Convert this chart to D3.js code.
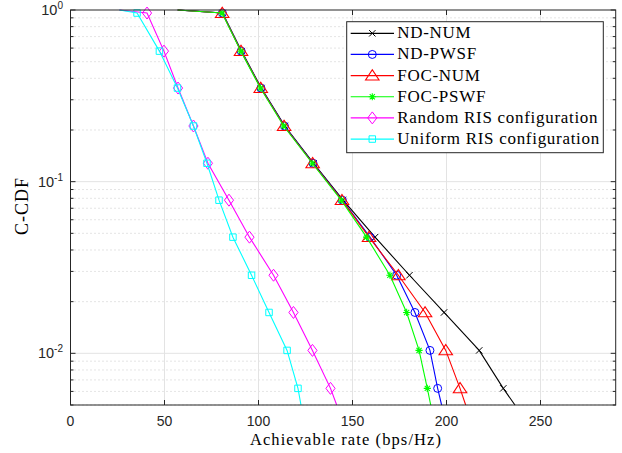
<!DOCTYPE html>
<html><head><meta charset="utf-8">
<script src="https://cdn.jsdelivr.net/npm/d3@7"></script>
<style>body{margin:0;background:#fff}svg{display:block}</style>
</head><body>
<svg id="c" width="622" height="453"></svg>
<script>
// CCDF levels where markers sit
const ccdfLevels = [0.96, 0.576, 0.351, 0.211, 0.128, 0.078, 0.0475, 0.0285, 0.0173, 0.0104, 0.00625];
const xTicks = [0, 50, 100, 150, 200, 250];
const yTicks = [1, 0.1, 0.01];
const yTickLabels = [["10", "0"], ["10", "-1"], ["10", "-2"]];
const seriesNames = ["ND-NUM", "ND-PWSF", "FOC-NUM", "FOC-PSWF", "Random RIS configuration", "Uniform RIS configuration"];
// rates at the marker levels
const ndNum   = [80.9, 91.0, 101.5, 114.0, 129.3, 145.0, 162.0, 180.3, 198.7, 217.4, 230.2];
const ndPwsf  = [80.8, 90.8, 101.3, 113.8, 129.0, 144.6, 159.3, 173.5, 183.2, 191.2, 195.3];
const focNum  = [80.7, 90.7, 101.2, 113.6, 128.8, 144.4, 158.8, 174.4, 188.6, 199.6, 207.2];
const focPswf = [80.6, 90.6, 101.0, 113.4, 128.6, 144.0, 157.5, 169.9, 178.8, 185.4, 189.8];
const randRis = [40.7, 49.7, 57.2, 65.4, 73.1, 84.3, 95.2, 108.0, 118.6, 128.7, 138.3];
const unifRis = [35.4, 47.3, 56.9, 65.4, 72.6, 79.0, 86.4, 96.3, 105.6, 115.2, 121.0];
// where each curve leaves CCDF = 1, and where it hits the bottom (0.005)
const startRates = [57, 57, 57, 57, 26, 26];
const endRates = [236.4, 197.4, 210.2, 191.6, 141.6, 122.6];
const colors = ["#000000", "#0000ff", "#ff0000", "#00ff00", "#ff00ff", "#00ffff"];
const markers = ["x", "circle", "triangle", "star", "diamond", "square"];
const seriesRates = [ndNum, ndPwsf, focNum, focPswf, randRis, unifRis];

const svg = d3.select("#c");
const L = 70.5, R = 615.7, T = 10, B = 405;
const x = d3.scaleLinear().domain([0, 290]).range([L, R]);
const y = d3.scaleLog().domain([0.005, 1]).range([B, T]);
const axisCol = "#262626";

// minor grid (dotted)
const minor = [];
[0.001, 0.01, 0.1].forEach(d => { for (let k = 2; k <= 9; k++) { const v = +(k * d).toPrecision(3); if (v >= 0.005 && v < 1) minor.push(v); } });
svg.append("g").selectAll("line").data(minor).join("line")
  .attr("x1", L).attr("x2", R).attr("y1", d => y(d)).attr("y2", d => y(d))
  .attr("stroke", "#bdbdbd").attr("stroke-width", 0.8).attr("stroke-dasharray", "1,3");
// major grid
svg.append("g").selectAll("line").data(xTicks.slice(1)).join("line")
  .attr("x1", d => x(d)).attr("x2", d => x(d)).attr("y1", T).attr("y2", B)
  .attr("stroke", "#e3e3e3").attr("stroke-width", 1);
svg.append("g").selectAll("line").data(yTicks.slice(1)).join("line")
  .attr("x1", L).attr("x2", R).attr("y1", d => y(d)).attr("y2", d => y(d))
  .attr("stroke", "#e3e3e3").attr("stroke-width", 1);

// curves
const line = d3.line().x(d => x(d[0])).y(d => y(d[1]));
const sym = {
  circle: d3.symbol().type(d3.symbolCircle).size(50),
  triangle: d3.symbol().type(d3.symbolTriangle).size(60),
  square: d3.symbol().type(d3.symbolSquare).size(42)
};
function drawMarker(g, type, cx, cy, col) {
  if (type === "x") {
    const s = 3.2;
    g.append("path").attr("d", `M${cx-s},${cy-s}L${cx+s},${cy+s}M${cx-s},${cy+s}L${cx+s},${cy-s}`)
      .attr("stroke", col).attr("stroke-width", 1).attr("fill", "none");
  } else if (type === "star") {
    const s = 3.6, d = s * 0.72;
    g.append("path").attr("d", `M${cx-s},${cy}L${cx+s},${cy}M${cx},${cy-s}L${cx},${cy+s}M${cx-d},${cy-d}L${cx+d},${cy+d}M${cx-d},${cy+d}L${cx+d},${cy-d}`)
      .attr("stroke", col).attr("stroke-width", 1.1).attr("fill", "none");
  } else if (type === "diamond") {
    const w = 4.6, h = 6;
    g.append("path").attr("d", `M${cx},${cy-h}L${cx+w},${cy}L${cx},${cy+h}L${cx-w},${cy}Z`)
      .attr("stroke", col).attr("stroke-width", 1).attr("fill", "none");
  } else {
    let p = g.append("path").attr("d", sym[type]()).attr("fill", "none").attr("stroke", col).attr("stroke-width", 1);
    if (type === "triangle") p.attr("transform", `translate(${cx},${cy + 1}) scale(1.15,1)`);
    else p.attr("transform", `translate(${cx},${cy})`);
  }
}
const plot = svg.append("g");
seriesRates.forEach((rates, i) => {
  const pts = [[startRates[i], 1]].concat(rates.map((r, k) => [r, ccdfLevels[k]])).concat([[endRates[i], 0.005]]);
  const g = plot.append("g");
  g.append("path").datum(pts).attr("d", line).attr("fill", "none").attr("stroke", colors[i]).attr("stroke-width", 1.1);
  rates.forEach((r, k) => drawMarker(g, markers[i], x(r), y(ccdfLevels[k]), colors[i]));
});

// axes box + ticks
const ax = svg.append("g").attr("stroke", axisCol).attr("stroke-width", 1).attr("fill", "none");
ax.append("rect").attr("x", L).attr("y", T).attr("width", R - L).attr("height", B - T);
xTicks.forEach(t => {
  ax.append("line").attr("x1", x(t)).attr("x2", x(t)).attr("y1", B).attr("y2", B - 5);
  ax.append("line").attr("x1", x(t)).attr("x2", x(t)).attr("y1", T).attr("y2", T + 5);
});
yTicks.forEach(t => {
  ax.append("line").attr("x1", L).attr("x2", L + 5).attr("y1", y(t)).attr("y2", y(t));
  ax.append("line").attr("x1", R).attr("x2", R - 5).attr("y1", y(t)).attr("y2", y(t));
});
minor.forEach(t => {
  ax.append("line").attr("x1", L).attr("x2", L + 3).attr("y1", y(t)).attr("y2", y(t));
  ax.append("line").attr("x1", R).attr("x2", R - 3).attr("y1", y(t)).attr("y2", y(t));
});

// tick labels
const sans = "'Liberation Sans', Arial, sans-serif";
svg.append("g").selectAll("text").data(xTicks).join("text")
  .attr("x", d => x(d)).attr("y", 426).attr("text-anchor", "middle")
  .attr("font-family", sans).attr("font-size", 14).attr("fill", axisCol).text(d => d);
yTicks.forEach((t, i) => {
  const tx = svg.append("text").attr("x", 63).attr("y", y(t) + 5).attr("text-anchor", "end")
    .attr("font-family", sans).attr("font-size", 14.5).attr("fill", axisCol);
  tx.append("tspan").text(yTickLabels[i][0]);
  tx.append("tspan").attr("dy", -6).attr("font-size", 10).text(yTickLabels[i][1]);
});

// axis labels
const serif = "'Liberation Serif', 'Times New Roman', serif";
svg.append("text").attr("x", 346).attr("y", 444.5).attr("text-anchor", "middle")
  .attr("font-family", serif).attr("font-size", 16.5).attr("letter-spacing", 1.1).attr("fill", "#000").text("Achievable rate (bps/Hz)");
svg.append("text").attr("transform", `translate(27.5,206) rotate(-90)`).attr("text-anchor", "middle")
  .attr("font-family", serif).attr("font-size", 18).attr("letter-spacing", 1).attr("fill", "#000").text("C-CDF");

// legend
const lg = svg.append("g");
lg.append("rect").attr("x", 346.7).attr("y", 21.7).attr("width", 256.6).attr("height", 131)
  .attr("fill", "#fff").attr("stroke", axisCol).attr("stroke-width", 1);
seriesNames.forEach((n, i) => {
  const yy = 33.3 + i * 21.15;
  lg.append("line").attr("x1", 350.7).attr("x2", 394).attr("y1", yy).attr("y2", yy)
    .attr("stroke", colors[i]).attr("stroke-width", 1.2);
  drawMarker(lg, markers[i], 372.3, yy, colors[i]);
  lg.append("text").attr("x", 397.3).attr("y", yy + 5).attr("font-family", serif).attr("font-size", 17)
    .attr("letter-spacing", 0.7).attr("fill", "#000").text(n);
});
</script>
</body></html>
